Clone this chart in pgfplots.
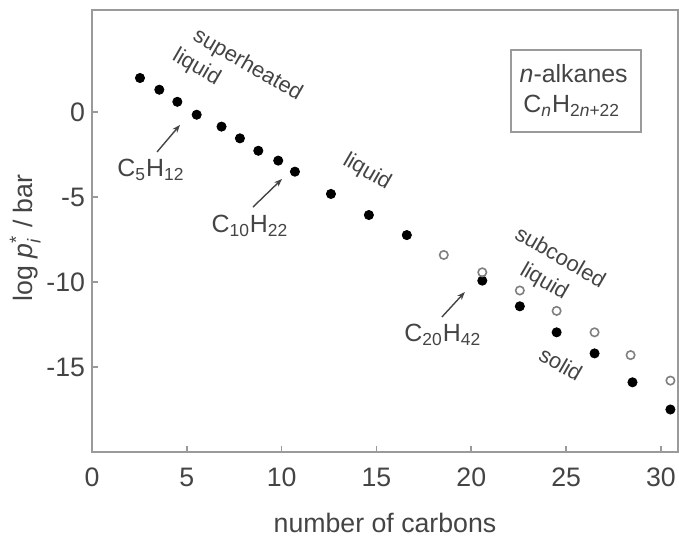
\documentclass[border=0pt]{standalone}
\usepackage{amsmath}
\usepackage{pgfplots}
\pgfplotsset{compat=1.18}
\usetikzlibrary{arrows.meta}
\usepackage{fontspec}
\setmainfont{Liberation Sans}
\definecolor{axgray}{HTML}{9A9A9A}
\definecolor{txt}{HTML}{444444}
\definecolor{opengray}{HTML}{808080}
\newcommand{\sub}[1]{$_{\text{#1}}$}

\begin{document}
\begin{tikzpicture}
\begin{axis}[name=ax,
  scale only axis, width=293bp, height=221bp,
  xmin=0, xmax=30.9, ymin=-20, ymax=6,
  axis line style={axgray, line width=1bp},
  tick pos=left, tick align=inside,
  major tick length=3bp,
  tick style={axgray, line width=0.8bp},
  xtick={0,5,...,30},
  xticklabels={0,5,10,15,20,25,30},
  ytick={-15,-10,-5,0},
  yticklabels={-15,-10,-5,0},
  ticklabel style={font=\fontsize{13.4}{16}\selectfont, text=txt},
  xticklabel style={yshift=-4.5bp},
  xlabel={number of carbons},
  ylabel={log \textit{p}$_{\text{\itshape i}}^{\text{*}}$ / bar},
  label style={font=\fontsize{13.4}{16}\selectfont, text=txt},
  xlabel style={at={(axis description cs:0.5,-0.16)}, anchor=center},
  ylabel style={at={(axis description cs:-0.114,0.484)}, anchor=center},
  clip=false,
]
% liquid / solid (filled)
\addplot[only marks, mark=*, mark size=2.3bp, black] coordinates {
  (2.53,2.0) (3.55,1.31) (4.5,0.6) (5.52,-0.16) (6.83,-0.86) (7.8,-1.55)
  (8.77,-2.28) (9.82,-2.86) (10.7,-3.51) (12.6,-4.82) (14.6,-6.06) (16.6,-7.24)
  (20.58,-9.92) (22.56,-11.43) (24.5,-12.96) (26.5,-14.2) (28.5,-15.9) (30.5,-17.5)
};
% subcooled liquid (open)
\addplot[only marks, mark=o, mark size=2.1bp, opengray, line width=0.8bp] coordinates {
  (18.55,-8.41) (20.58,-9.43) (22.56,-10.5) (24.5,-11.7) (26.5,-12.96) (28.4,-14.3) (30.5,-15.8)
};

\begin{scope}[every node/.style={font=\fontsize{11}{13}\selectfont, text=txt, inner sep=0pt}]
\node[rotate=-30] at (axis cs:8.2,2.75) {superheated};
\node[rotate=-30] at (axis cs:5.5,2.6) {liquid};
\node[rotate=-30] at (axis cs:14.5,-3.53) {liquid};
\node[rotate=-30] at (axis cs:24.72,-8.5) {subcooled};
\node[rotate=-30] at (axis cs:23.83,-10.0) {liquid};
\node[rotate=-30] at (axis cs:24.72,-14.82) {solid};
\end{scope}
\begin{scope}[every node/.style={font=\fontsize{12.5}{14}\selectfont, text=txt, inner sep=0pt}]
\node at (axis cs:3.11,-3.41) {C\sub{5}H\sub{12}};
\node at (axis cs:8.33,-6.71) {C\sub{10}H\sub{22}};
\node at (axis cs:18.5,-13.1) {C\sub{20}H\sub{42}};
\node at (axis cs:25.4,2.24) {\textit{n}-alkanes};
\node at (axis cs:25.3,0.35) {C\sub{\itshape n}H\sub{2\textit{n}+22}};
\end{scope}
\draw[axgray, line width=0.8bp] (axis cs:22.09,3.65) rectangle (axis cs:28.94,-1.18);
\draw[txt, line width=0.7bp, -{Stealth[length=4bp,width=3bp]}] (axis cs:3.43,-2.35) -- (axis cs:4.64,-0.76);
\draw[txt, line width=0.7bp, -{Stealth[length=4bp,width=3bp]}] (axis cs:8.49,-5.59) -- (axis cs:10.02,-3.94);
\draw[txt, line width=0.7bp, -{Stealth[length=4bp,width=3bp]}] (axis cs:18.45,-12.06) -- (axis cs:19.66,-10.59);
\end{axis}
\pgfresetboundingbox
\path[use as bounding box] ([shift={(-46bp,-42bp)}]ax.south west) rectangle ([shift={(293.5bp,226bp)}]ax.south west);
\end{tikzpicture}
\end{document}
